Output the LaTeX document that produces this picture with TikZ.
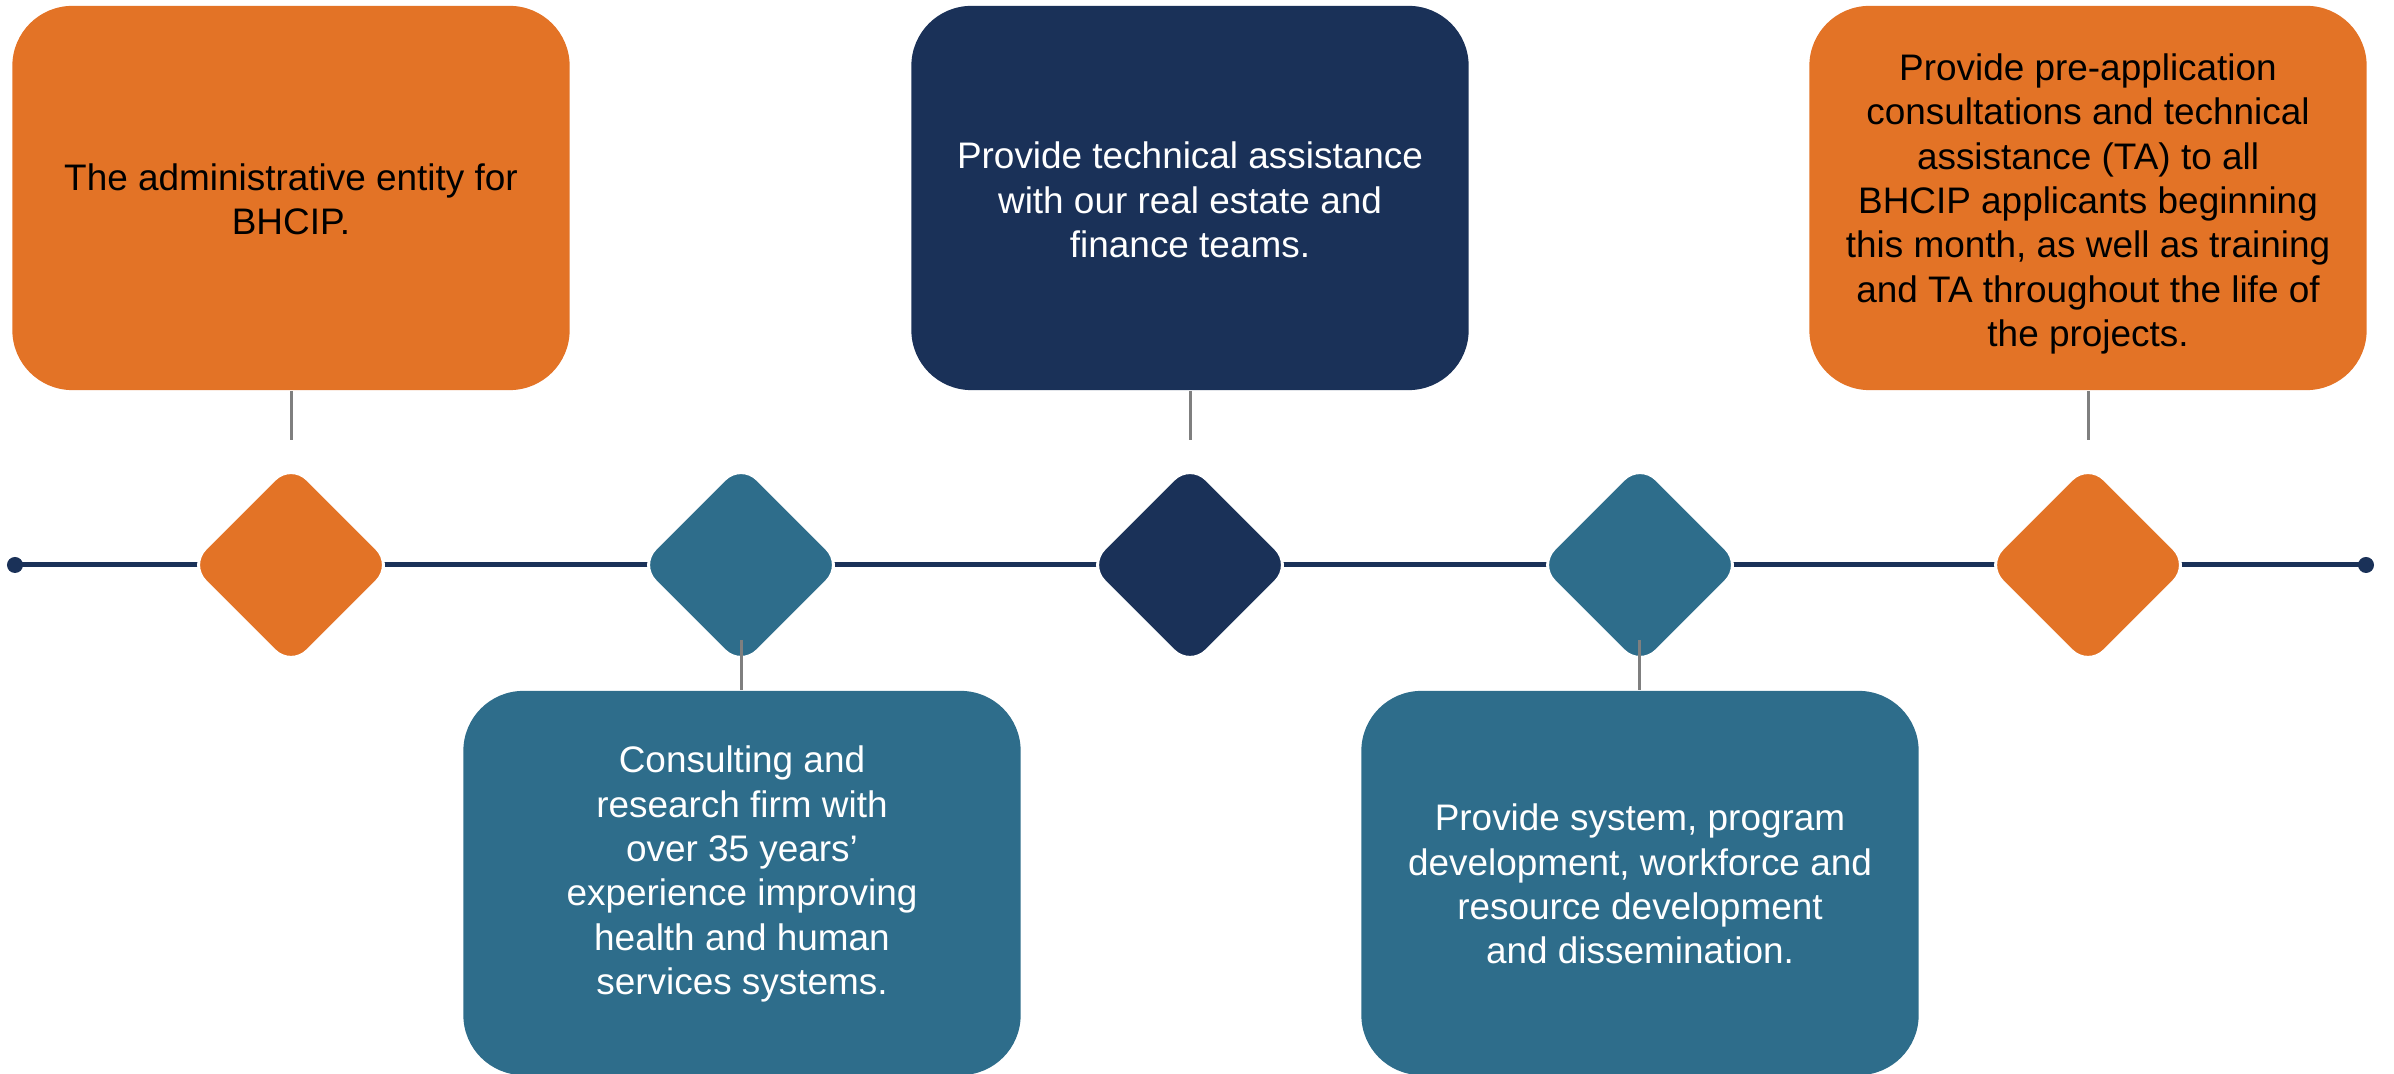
\documentclass[tikz,border=0pt]{standalone}
\usepackage{fontspec}
\setmainfont{Liberation Sans}
\usetikzlibrary{shapes.geometric,calc}
\definecolor{borange}{HTML}{E37326}
\definecolor{bnavy}{HTML}{1A3158}
\definecolor{bteal}{HTML}{2E6D8B}
\definecolor{bgray}{HTML}{7F7F7F}
\begin{document}
\begin{tikzpicture}[x=0.01cm,y=-0.01cm,
  box/.style={rectangle, rounded corners=0.6cm, minimum width=5.57cm, minimum height=3.84cm, inner sep=0pt},
  txt/.style={align=center, font=\fontsize{10.5}{12.6}\selectfont, inner sep=0pt},
  gem/.style={diamond, minimum width=2.05cm, minimum height=2.05cm, inner sep=0pt, rounded corners=0.23cm, draw=white, line width=0.03cm},
  conn/.style={draw=bgray, line width=0.03cm},
  tl/.style={draw=bnavy, line width=0.05cm},
  dotend/.style={circle, fill=bnavy, minimum size=0.16cm, inner sep=0pt}]
\useasboundingbox (0,0) rectangle (2394,1074);

% timeline
\node[dotend] (e1) at (15,565) {};
\node[dotend] (e2) at (2366,565) {};
\draw[tl] (e1.center) -- (e2.center);

% boxes
\node[box, fill=borange] (b1) at (291,198) {};
\node[box, fill=bnavy] (b3) at (1190,198) {};
\node[box, fill=borange] (b5) at (2088,198) {};
\node[box, fill=bteal] (b2) at (742,883) {};
\node[box, fill=bteal] (b4) at (1640,883) {};

\node[txt, text=black] (t1) at (291,199) {The administrative entity for\\BHCIP.};
\node[txt, text=white] (t3) at (1190,200) {Provide technical assistance\\with our real estate and\\finance teams.};
\node[txt, text=black] (t5) at (2088,204) {Provide pre-application\\consultations and technical\\assistance (TA) to all\\BHCIP applicants beginning\\this month, as well as training\\and TA throughout the life of\\the projects.};
\node[txt, text=white] (t2) at (742,874) {Consulting and\\research firm with\\over 35 years’\\experience improving\\health and human\\services systems.};
\node[txt, text=white] (t4) at (1640,884) {Provide system, program\\development, workforce and\\resource development\\and dissemination.};

% diamonds
\node[gem, fill=borange] (d1) at (291,565) {};
\node[gem, fill=bteal] (d2) at (741,565) {};
\node[gem, fill=bnavy] (d3) at (1190,565) {};
\node[gem, fill=bteal] (d4) at (1640,565) {};
\node[gem, fill=borange] (d5) at (2088,565) {};

% connectors
\coordinate (c1) at (291,440);
\coordinate (c3) at (1190,440);
\coordinate (c5) at (2088,440);
\coordinate (c2) at (741,640);
\coordinate (c4) at (1639,640);
\draw[conn] (b1.south) -- (c1);
\draw[conn] (b3.south) -- (c3);
\draw[conn] (b5.south -| c5) -- (c5);
\draw[conn] (c2) -- (b2.north -| c2);
\draw[conn] (c4) -- (b4.north -| c4);
\end{tikzpicture}
\end{document}
